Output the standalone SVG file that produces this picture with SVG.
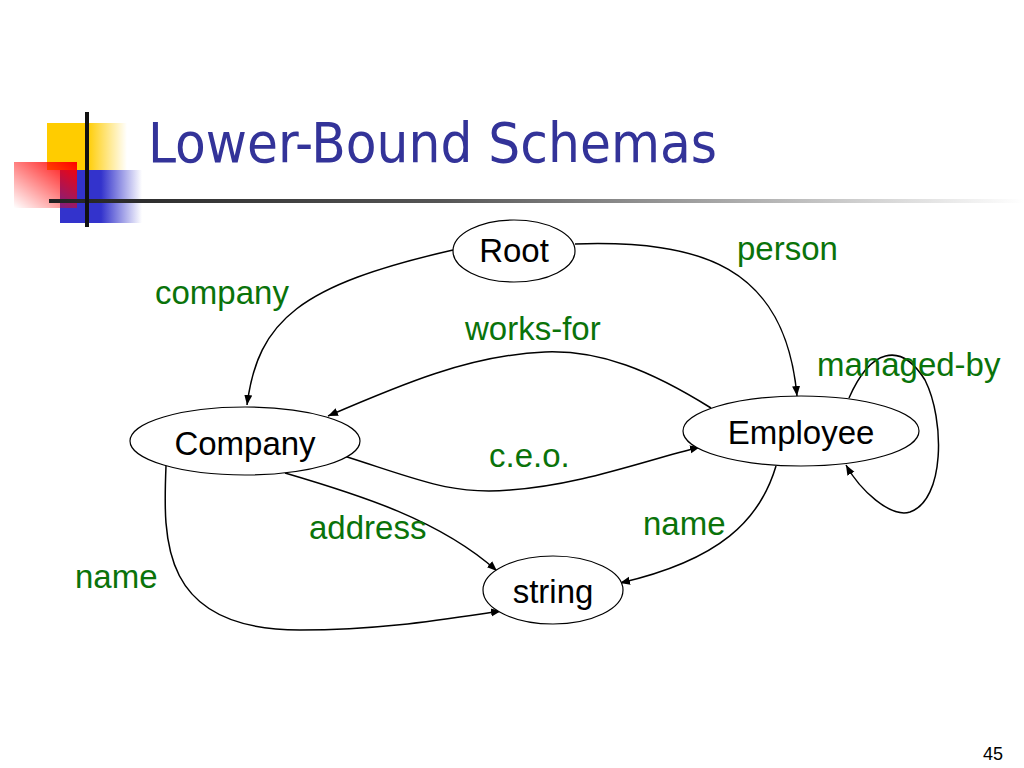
<svg xmlns="http://www.w3.org/2000/svg" width="1024" height="768" viewBox="0 0 1024 768">
<defs>
<linearGradient id="gy" x1="0" y1="0" x2="1" y2="0"><stop offset="0" stop-color="#ffcc00"/><stop offset="0.5" stop-color="#ffcc00"/><stop offset="1" stop-color="#ffcc00" stop-opacity="0"/></linearGradient>
<linearGradient id="gb" x1="0" y1="0" x2="1" y2="0"><stop offset="0" stop-color="#3333cc"/><stop offset="0.5" stop-color="#3333cc"/><stop offset="1" stop-color="#3333cc" stop-opacity="0"/></linearGradient>
<linearGradient id="gr" x1="1" y1="0" x2="0" y2="1"><stop offset="0" stop-color="#ff0000"/><stop offset="1" stop-color="#ff0000" stop-opacity="0"/></linearGradient>
<linearGradient id="gl" x1="0" y1="0" x2="1" y2="0"><stop offset="0" stop-color="#222"/><stop offset="0.4" stop-color="#555"/><stop offset="1" stop-color="#555" stop-opacity="0"/></linearGradient>
<marker id="ah" viewBox="0 0 10 10" refX="10" refY="5" markerWidth="10" markerHeight="10" markerUnits="userSpaceOnUse" orient="auto"><path d="M0,1 L10,5 L0,9 z" fill="#000"/></marker>
</defs>
<style>
.node ellipse{fill:#fff;stroke:#000;stroke-width:1.2}
.node text{font-family:"Liberation Sans",Arial,sans-serif;font-size:33px;fill:#000}
.lbl{font-family:"Liberation Sans",Arial,sans-serif;font-size:33px;fill:#0a730a}
#edges path{fill:none;stroke:#000;stroke-width:1.5;marker-end:url(#ah)}
</style>
<rect width="1024" height="768" fill="#fff"/>
<g id="logo">
<rect x="47" y="123" width="80" height="47" fill="url(#gy)"/>
<rect x="60" y="170" width="82" height="53" fill="url(#gb)"/>
<rect x="14" y="162" width="63" height="46" fill="url(#gr)"/>
<rect x="49" y="199" width="975" height="4" fill="url(#gl)"/>
<rect x="85" y="112" width="4" height="115" fill="#111"/>
</g>
<text x="148" y="162" font-family="DejaVu Sans Condensed,Liberation Sans,sans-serif" font-size="56" fill="#333399" textLength="569" lengthAdjust="spacingAndGlyphs">Lower-Bound Schemas</text>
<g id="edges">
<path d="M453,250 C300,285 258,320 247,405"/>
<path d="M575,244 C700,240 785,265 797,396"/>
<path d="M711,408 C650,370 600,350 545,352 C470,355 400,385 328,416"/>
<path d="M341,455 C420,480 450,495 510,490 C580,485 640,462 700,447"/>
<path d="M285,473 C360,495 440,520 497,571"/>
<path d="M166,466 C163,540 160,630 300,630 C380,630 440,620 501,611"/>
<path d="M776,466 C760,520 720,560 620,583"/>
<path d="M849,398 C870,350 900,340 925,380 C945,420 945,500 910,512 C890,518 860,490 846,465"/>
</g>
<g id="labels">
<text class="lbl" x="155" y="304">company</text>
<text class="lbl" x="737" y="260">person</text>
<text class="lbl" x="465" y="340">works-for</text>
<text class="lbl" x="817" y="376">managed-by</text>
<text class="lbl" x="489" y="467">c.e.o.</text>
<text class="lbl" x="309" y="539">address</text>
<text class="lbl" x="643" y="535">name</text>
<text class="lbl" x="75" y="588">name</text>
</g>
<g id="node-root" class="node"><ellipse cx="514" cy="251" rx="61" ry="31"/><text x="514" y="262" text-anchor="middle">Root</text></g>
<g id="node-company" class="node"><ellipse cx="245" cy="441" rx="115" ry="34"/><text x="245" y="455" text-anchor="middle">Company</text></g>
<g id="node-employee" class="node"><ellipse cx="801" cy="431" rx="118" ry="35"/><text x="801" y="444" text-anchor="middle">Employee</text></g>
<g id="node-string" class="node"><ellipse cx="553" cy="590" rx="70" ry="34"/><text x="553" y="603" text-anchor="middle">string</text></g>
<text x="1003" y="760" text-anchor="end" font-family="Liberation Sans,Arial,sans-serif" font-size="18" fill="#000">45</text>
</svg>
